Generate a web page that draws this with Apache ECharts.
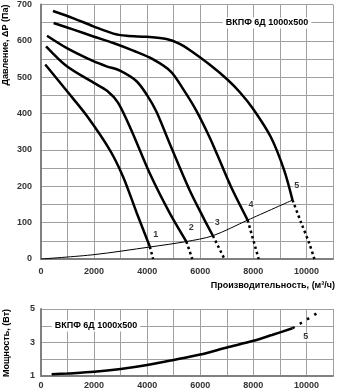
<!DOCTYPE html>
<html><head><meta charset="utf-8">
<script src="https://cdn.jsdelivr.net/npm/echarts@6/dist/echarts.min.js"></script>
<style>html,body{margin:0;padding:0;background:#fff}#c{width:337px;height:392px}</style>
</head><body><div id="c"></div>
<script>
// Pressure curves (flow m3/h, pressure Pa)
const curve1 = [[160,535],[975,462],[1725,394],[2600,299],[3100,225],[3600,128],[4100,34]];
const curve2 = [[190,585],[975,530],[1975,485],[2500,462],[2900,430],[3400,355],[4100,235],[4850,126],[5475,48]];
const curve3 = [[225,614],[975,580],[1975,544],[2475,530],[2975,518],[3600,489],[4000,450],[4350,405],[4850,317],[5600,189],[6100,116],[6475,64]];
const curve4 = [[475,649],[1225,631],[1975,612],[2725,594],[3475,573],[4225,549],[4900,515],[5375,465],[5850,408],[6350,335],[6662,283],[7162,198],[7785,107]];
const curve5 = [[450,682],[1225,662],[1975,640],[2725,620],[3225,614],[3975,611],[4725,605],[5225,592],[5600,575],[6350,535],[7000,495],[7500,458],[8000,412],[8662,335],[9162,244],[9475,162]];
const ext1 = [[4100,34],[4225,0]];
const ext2 = [[5475,48],[5700,0]];
const ext3 = [[6475,64],[6912,0]];
const ext4 = [[7785,107],[8200,0]];
const ext5 = [[9475,162],[9800,100],[10100,44],[10300,0]];
const systemCurve = [[0,0],[2000,12],[4100,33],[5475,48],[6475,64],[7785,107],[9475,162]];
const curveLabels = [[4324,66,'1'],[5662,86,'2'],[6637,101,'3'],[7912,150,'4'],[9637,201,'5']];
// Power curve (flow, power)
const power = [[400,1.1],[1000,1.15],[2000,1.25],[3000,1.42],[4000,1.66],[5000,1.96],[6000,2.28],[7000,2.7],[8000,3.1],[8700,3.45],[9475,3.85]];
const powerExt = [[9475,3.85],[10400,4.75]];
const powerLabels = [[9975,3.34,'5']];
const modelName = 'ВКПФ 6Д 1000x500';
const yTitleTop = 'Давление, ΔP (Па)';
const yTitleBottom = 'Мощность, (Вт)';
const xTitle = 'Производительность, (м³/ч)';

const FONT = '"Liberation Sans", Arial, sans-serif';
const chart = echarts.init(document.getElementById('c'), null, {renderer:'canvas'});
const axisLabelBase = {fontSize:9, fontWeight:'bold', color:'#333', fontFamily:FONT};
const split = {show:true, lineStyle:{color:'#a0a0a0', width:1}};
const axLine = {show:true, onZero:false, lineStyle:{color:'#808080', width:2}};
function xAx(g, margin){
  return {type:'value', gridIndex:g, min:0, max:11000, interval:1000,
    axisLine:axLine, axisTick:{show:false}, splitLine:split,
    axisLabel:Object.assign({margin:margin, formatter:v=> v%2000===0 ? String(v) : ''}, axisLabelBase)};
}
const solid = {color:'#000', width:2.5};
const dotted = {color:'#000', width:2.5, type:[2.5,3]};
function ln(data, style, xi, smooth){
  return {type:'line', data:data, xAxisIndex:xi, yAxisIndex:xi, showSymbol:false, symbol:'none',
    smooth:smooth, lineStyle:style, silent:true, z:3};
}
function lbl(data, xi){
  return {type:'scatter', data:data, xAxisIndex:xi, yAxisIndex:xi, symbolSize:1,
    itemStyle:{color:'rgba(0,0,0,0)'}, silent:true, z:5,
    label:{show:true, position:'inside', formatter:p=>p.data[2], fontSize:9, fontWeight:'bold',
      color:'#000', fontFamily:FONT, backgroundColor:'#fff', padding:[0,1]}};
}
const option = {
  animation:false,
  grid:[{left:41, top:4, width:292, height:255},{left:41, top:309, width:292, height:67}],
  xAxis:[xAx(0,8), xAx(1,5)],
  yAxis:[
    {type:'value', gridIndex:0, min:0, max:700, interval:50, axisLine:axLine, axisTick:{show:false}, splitLine:split,
      axisLabel:Object.assign({margin:9, formatter:v=> v%100===0 ? String(v) : ''}, axisLabelBase)},
    {type:'value', gridIndex:1, min:1, max:5, interval:1, axisLine:axLine, axisTick:{show:false}, splitLine:split,
      axisLabel:Object.assign({margin:6, formatter:v=> (v-1)%2===0 ? String(v) : ''}, axisLabelBase)}
  ],
  series:[
    ln(curve1, solid, 0, 0.3), ln(curve2, solid, 0, 0.3), ln(curve3, solid, 0, 0.3),
    ln(curve4, solid, 0, 0.3), ln(curve5, solid, 0, 0.3),
    ln(ext1, dotted, 0, false), ln(ext2, dotted, 0, false), ln(ext3, dotted, 0, false),
    ln(ext4, dotted, 0, false), ln(ext5, dotted, 0, 0.3),
    ln(systemCurve, {color:'#000', width:1}, 0, 0.3),
    lbl(curveLabels, 0),
    ln(power, solid, 1, 0.3), ln(powerExt, {color:'#000', width:2.5, type:[2.5,6]}, 1, false),
    lbl(powerLabels, 1)
  ],
  graphic:[
    {type:'text', x:267, y:23, z:10, style:{text:modelName, font:'bold 9px '+FONT, fill:'#000', align:'center', verticalAlign:'middle', backgroundColor:'#fff', padding:[1,3]}},
    {type:'text', x:96, y:326, z:10, style:{text:modelName, font:'bold 9px '+FONT, fill:'#000', align:'center', verticalAlign:'middle', backgroundColor:'#fff', padding:[1,3]}},
    {type:'text', x:6, y:45, rotation:Math.PI/2, style:{text:yTitleTop, font:'bold 9px '+FONT, fill:'#000', align:'center', verticalAlign:'middle'}},
    {type:'text', x:7, y:343, rotation:Math.PI/2, style:{text:yTitleBottom, font:'bold 9px '+FONT, fill:'#000', align:'center', verticalAlign:'middle'}},
    {type:'text', x:335, y:286, style:{text:xTitle, font:'bold 9px '+FONT, fill:'#000', align:'right', verticalAlign:'middle'}}
  ]
};
chart.setOption(option);
</script></body></html>
